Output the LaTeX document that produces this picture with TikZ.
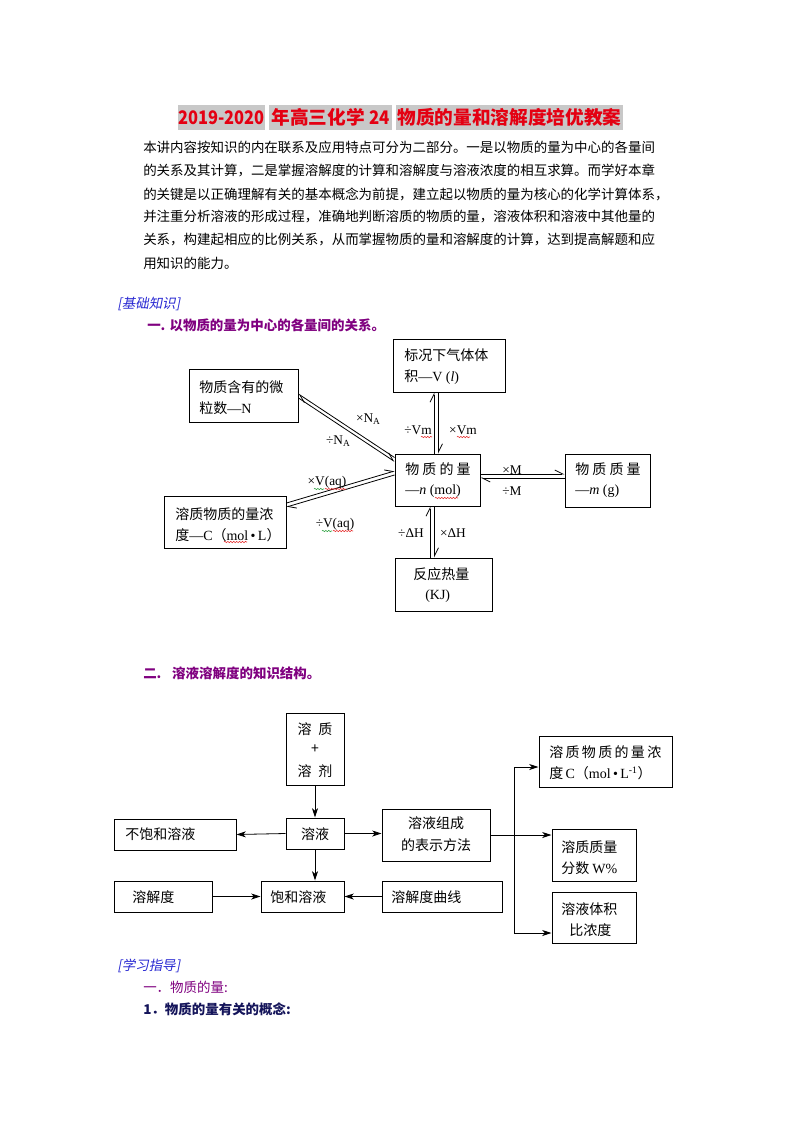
\documentclass[tikz,border=0pt]{standalone}
\usepackage{fontspec}
\setmainfont{Noto Sans CJK SC}
\newfontfamily\tnr{Liberation Serif}
\newfontfamily\cjkit[FakeSlant=0.2]{Noto Sans CJK SC}
\usetikzlibrary{arrows.meta,fit,decorations.pathmorphing}
\definecolor{titlered}{RGB}{228,0,18}
\definecolor{hlgray}{RGB}{200,200,200}
\definecolor{headpurple}{RGB}{128,0,128}
\definecolor{headblue}{RGB}{40,40,210}
\definecolor{navyblue}{RGB}{20,20,90}
\definecolor{spellred}{RGB}{230,40,40}
\definecolor{spellgreen}{RGB}{40,160,60}
\tikzset{
  body/.style={anchor=west,inner sep=0pt,font=\fontsize{10.1pt}{12pt}\selectfont},
  titleseg/.style={fill=hlgray,text=titlered,inner sep=0pt,minimum height=18.75pt,
    font=\fontsize{14pt}{16pt}\selectfont\bfseries},
  boxr/.style={draw,line width=0.75pt,inner sep=0pt},
  txt/.style={anchor=west,inner sep=0pt,font=\fontsize{10.5pt}{12pt}\selectfont},
  ctxt/.style={anchor=center,inner sep=0pt,font=\fontsize{10.5pt}{12pt}\selectfont},
  lbl/.style={anchor=center,inner sep=0pt,font=\tnr\fontsize{10pt}{12pt}\selectfont},
  conn/.style={line width=0.6pt,-{Straight Barb[left,length=6pt,width=6pt]}},
  arr/.style={line width=0.6pt,-{Stealth[length=7pt,width=4.5pt,inset=2pt]}},
  plain/.style={line width=0.6pt},
  spell/.style={draw=spellred,line width=0.4pt,decorate,decoration={snake,amplitude=0.5pt,segment length=2.2pt}},
  spellg/.style={draw=spellgreen,line width=0.4pt,decorate,decoration={snake,amplitude=0.5pt,segment length=2.2pt}},
}
\newcommand{\sub}[1]{\raisebox{-0.35ex}{\fontsize{7pt}{8pt}\selectfont #1}}
\begin{document}
\begin{tikzpicture}[x=0.75pt,y=-0.75pt]
\fill[white] (0,0) rectangle (800,1132);
\useasboundingbox (0,0) rectangle (800,1132);

% title
\node[titleseg,minimum width=63.75pt] (t1) at (221.5,117.5) {\scalebox{0.88}[1]{2019-2020}};
\node[titleseg,minimum width=92.25pt] (t2) at (330.5,117.5) {年高三化学 \scalebox{0.9}[1]{24}};
\node[titleseg,minimum width=170.25pt] (t3) at (509.5,117.5) {物质的量和溶解度培优教案};

% paragraph
\node[body] (p1) at (143,147) {本讲内容按知识的内在联系及应用特点可分为二部分。一是以物质的量为中心的各量间};
\node[body] (p2) at (143,170.5) {的关系及其计算，二是掌握溶解度的计算和溶解度与溶液浓度的相互求算。而学好本章};
\node[body] (p3) at (143,194) {的关键是以正确理解有关的基本概念为前提，建立起以物质的量为核心的化学计算体系，};
\node[body] (p4) at (143,217) {并注重分析溶液的形成过程，准确地判断溶质的物质的量，溶液体积和溶液中其他量的};
\node[body] (p5) at (143,240) {关系，构建起相应的比例关系，从而掌握物质的量和溶解度的计算，达到提高解题和应};
\node[body] (p6) at (143,263) {用知识的能力。};

% headings
\node[body,text=headblue] (h1) at (117,304) {\cjkit [基础知识]};
\node[body,text=headpurple] (h2) at (147,325) {\bfseries 一. 以物质的量为中心的各量间的关系。};

% diagram 1 boxes
\node[boxr,fit={(393,339) (505,392)}] (V) {};
\node[boxr,fit={(189,369) (298,422)}] (N) {};
\node[boxr,fit={(395,454) (480,506)}] (n) {};
\node[boxr,fit={(565,454) (650,507)}] (m) {};
\node[boxr,fit={(164,496) (286,548)}] (C) {};
\node[boxr,fit={(395,558) (492,611)}] (H) {};

\node[txt] (Vt1) at (404,355) {标况下气体体};
\node[txt] (Vt2) at (404,377) {积{\tnr —V (\textit{l})}};
\node[txt] (Nt1) at (199,387) {物质含有的微};
\node[txt] (Nt2) at (199,408) {粒数{\tnr —N}};
\node[txt] (nt1) at (405,469) {物 质 的 量};
\node[txt] (nt2) at (405,491) {\tnr —\textit{n} (mol)};
\node[txt] (mt1) at (575,469) {物 质 质 量};
\node[txt] (mt2) at (575,491) {\tnr —\textit{m} (g)};
\node[txt] (Ct1) at (175,514) {溶质物质的量浓};
\node[txt] (Ct2) at (175,535) {度{\tnr —C}（{\tnr mol\,•\,L}）};
\node[txt] (Ht1) at (413,574) {反应热量};
\node[txt] (Ht2) at (425,596) {\tnr (KJ)};

% connectors diagram 1
\draw[conn] (434,0 |- n.north) -- (434,0 |- V.south);
\draw[conn] (438.5,0 |- V.south) -- (438.5,0 |- n.north);
\draw[conn] (n.west |- 0,457.5) -- (N.east |- 0,394);
\draw[conn] (N.east |- 0,398) -- (n.west |- 0,461.5);
\draw[conn] (C.east |- 0,503) -- (n.west |- 0,471);
\draw[conn] (n.west |- 0,475) -- (C.east |- 0,507);
\draw[conn] (n.east |- 0,474) -- (m.west |- 0,474);
\draw[conn] (m.west |- 0,478) -- (n.east |- 0,478);
\draw[conn] (430,0 |- H.north) -- (430,0 |- n.south);
\draw[conn] (434.5,0 |- n.south) -- (434.5,0 |- H.north);

\node[lbl] (l1) at (368,419) {×N\sub{A}};
\node[lbl] (l2) at (338,441) {÷N\sub{A}};
\node[lbl] (l3) at (418,430) {÷Vm};
\node[lbl] (l4) at (463,430) {×Vm};
\node[lbl] (l5) at (327,482) {×V(aq)};
\node[lbl] (l6) at (335,524) {÷V(aq)};
\node[lbl] (l7) at (512,470) {×M};
\node[lbl] (l8) at (512,491) {÷M};
\node[lbl] (l9) at (411,533) {÷ΔH};
\node[lbl] (l10) at (453,533) {×ΔH};

% spell-check underlines
\draw[spell] (421,437) -- (432,437);
\draw[spell] (457,437) -- (470,437);
\draw[spellg] (314,489) -- (324,489);
\draw[spell] (325,489) -- (346,489);
\draw[spellg] (322,531) -- (332,531);
\draw[spell] (333,531) -- (353,531);
\draw[spell] (435,498) -- (458,498);
\draw[spell] (224,542) -- (247,542);

% section 2 heading
\node[body,text=headpurple] (h3) at (143,673) {\bfseries 二.\hspace{5pt} 溶液溶解度的知识结构。};

% diagram 2 boxes
\node[boxr,fit={(286,713) (344,785)}] (solute) {};
\node[boxr,fit={(286,818) (344,849)}] (sol) {};
\node[boxr,fit={(114,819) (236,850)}] (unsat) {};
\node[boxr,fit={(382,809) (490,861)}] (comp) {};
\node[boxr,fit={(114,881) (212,912)}] (solub) {};
\node[boxr,fit={(261,881) (344,912)}] (sat) {};
\node[boxr,fit={(382,881) (502,912)}] (curve) {};
\node[boxr,fit={(539,736) (672,787)}] (Cc) {};
\node[boxr,fit={(552,829) (636,881)}] (W) {};
\node[boxr,fit={(552,892) (636,943)}] (Vr) {};

\node[ctxt] (s1) at (315,729) {溶\hspace{5pt}质};
\node[ctxt] (s2) at (315,749) {+};
\node[ctxt] (s3) at (315,771) {溶\hspace{5pt}剂};
\node[ctxt] (solt) at (315,834) {溶液};
\node[txt] (unsatt) at (125,834) {不饱和溶液};
\node[ctxt] (compt1) at (436,823) {溶液组成};
\node[ctxt] (compt2) at (436,845) {的表示方法};
\node[txt] (solubt) at (132,897) {溶解度};
\node[txt] (satt) at (270,897) {饱和溶液};
\node[txt] (curvet) at (391,897) {溶解度曲线};
\node[txt] (Cct1) at (549,752) {溶\,质\,物\,质\,的\,量\,浓};
\node[txt] (Cct2) at (549,773) {度\,{\tnr C}（{\tnr mol\,•\,L\textsuperscript{-1}}）};
\node[txt] (Wt1) at (561,847) {溶质质量};
\node[txt] (Wt2) at (561,868) {分数 {\tnr W\%}};
\node[txt] (Vrt1) at (561,909) {溶液体积};
\node[txt] (Vrt2) at (569,930) {比浓度};

% diagram 2 arrows
\draw[arr] (solute.south) -- (sol.north);
\draw[arr] (sol.west) -- (unsat.east);
\draw[arr] (sol.east) -- (sol.east -| comp.west);
\draw[arr] (sol.south) -- (sol.south |- sat.north);
\draw[arr] (solub.east) -- (solub.east -| sat.west);
\draw[arr] (curve.west) -- (curve.west -| sat.east);
\coordinate (jt) at (514,767);
\coordinate (jb) at (514,933);
\draw[plain] (jt) -- (jb);
\draw[arr] (comp.east) -- (comp.east -| W.west);
\draw[arr] (jt) -- (jt -| Cc.west);
\draw[arr] (jb) -- (jb -| Vr.west);

% bottom headings
\node[body,text=headblue] (h4) at (117,966) {\cjkit [学习指导]};
\node[body,text=headpurple] (h5) at (143,987) {一．物质的量:};
\node[body,text=navyblue] (h6) at (143,1009) {\bfseries 1．物质的量有关的概念:};
\end{tikzpicture}
\end{document}
